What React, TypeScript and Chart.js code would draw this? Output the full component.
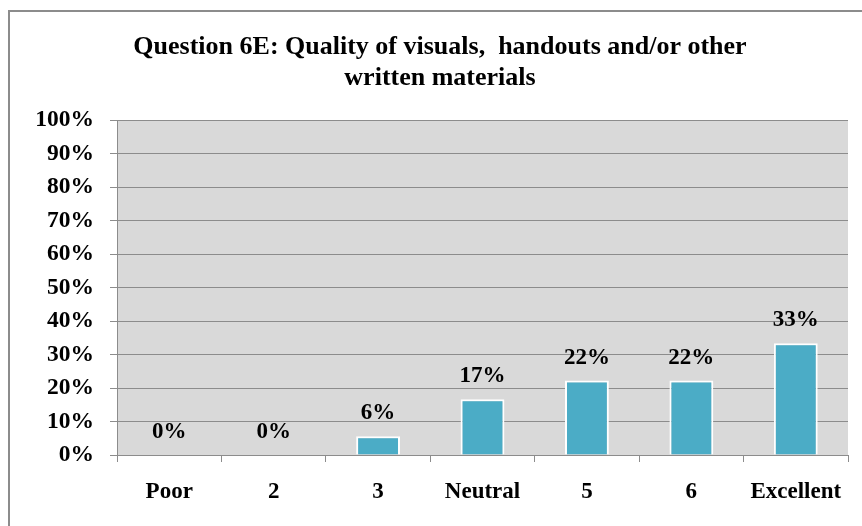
import React, { useEffect, useRef } from "react";
import { Chart, registerables } from "chart.js";

Chart.register(...registerables);

const categories = ["Poor", "2", "3", "Neutral", "5", "6", "Excellent"];
const values = [0, 0, 5.56, 16.67, 22.22, 22.22, 33.33];
const valueLabels = ["0%", "0%", "6%", "17%", "22%", "22%", "33%"];
const titleLines = ["Question 6E: Quality of visuals,  handouts and/or other", "written materials"];

const FONT = "'Liberation Serif', 'Times New Roman', serif";

export default function App() {
  const ref = useRef<HTMLCanvasElement | null>(null);

  useEffect(() => {
    if (!ref.current) return;
    const framePlugin = {
      id: "frame",
      beforeDraw(chart: any) {
        const ctx = chart.ctx;
        ctx.save();
        ctx.fillStyle = "#ffffff";
        ctx.fillRect(0, 0, chart.width, chart.height);
        ctx.fillStyle = "#8c8c8c";
        ctx.fillRect(8, 10, chart.width, 2);
        ctx.fillRect(8, 10, 2, chart.height);
        const { chartArea } = chart;
        ctx.fillStyle = "#d9d9d9";
        ctx.fillRect(chartArea.left, chartArea.top, chartArea.right - chartArea.left, chartArea.bottom - chartArea.top);
        ctx.restore();
      },
      afterDraw(chart: any) {
        const ctx = chart.ctx;
        ctx.save();
        ctx.fillStyle = "#000000";
        ctx.font = `bold 26px ${FONT}`;
        ctx.textAlign = "center";
        ctx.textBaseline = "middle";
        ctx.fillText(titleLines[0], 440, 47);
        ctx.fillText(titleLines[1], 440, 78);
        const meta = chart.getDatasetMeta(0);
        ctx.font = `bold 23px ${FONT}`;
        meta.data.forEach((bar: any, i: number) => {
          ctx.fillText(valueLabels[i], bar.x, bar.y - 23);
        });
        ctx.restore();
      },
    };

    const chart = new Chart(ref.current, {
      type: "bar",
      data: {
        labels: categories,
        datasets: [
          {
            data: values,
            backgroundColor: "#4bacc6",
            borderColor: "#ffffff",
            borderWidth: 2,
            barPercentage: 0.42,
            categoryPercentage: 1,
          },
        ],
      },
      options: {
        animation: false,
        responsive: false,
        maintainAspectRatio: false,
        layout: { padding: { top: 120, right: 14, left: 0, bottom: 0 } },
        plugins: {
          legend: { display: false },
          title: { display: false },
          tooltip: { enabled: false },
        },
        scales: {
          x: {
            afterFit(scale: any) {
              scale.height = 71;
            },
            grid: {
              offset: true,
              drawOnChartArea: false,
              drawTicks: true,
              tickLength: 7,
              color: "#8c8c8c",
            },
            border: { color: "#8c8c8c", width: 1 },
            ticks: {
              color: "#000000",
              font: { family: FONT, size: 23, weight: "bold" },
              padding: 16,
              maxRotation: 0,
              autoSkip: false,
            },
          },
          y: {
            min: 0,
            max: 100,
            afterFit(scale: any) {
              scale.width = 117;
            },
            grid: {
              color: "#8c8c8c",
              tickLength: 7,
              lineWidth: 1,
            },
            border: { color: "#8c8c8c", width: 1 },
            ticks: {
              stepSize: 10,
              color: "#000000",
              font: { family: FONT, size: 23.5, weight: "bold" },
              padding: 16,
              callback: (v: any) => `${v}%`,
            },
          },
        },
      },
      plugins: [framePlugin],
    });
    return () => chart.destroy();
  }, []);

  return (
    <canvas
      ref={ref}
      width={862}
      height={526}
      style={{ position: "fixed", left: 0, top: 0, width: 862, height: 526 }}
    />
  );
}
